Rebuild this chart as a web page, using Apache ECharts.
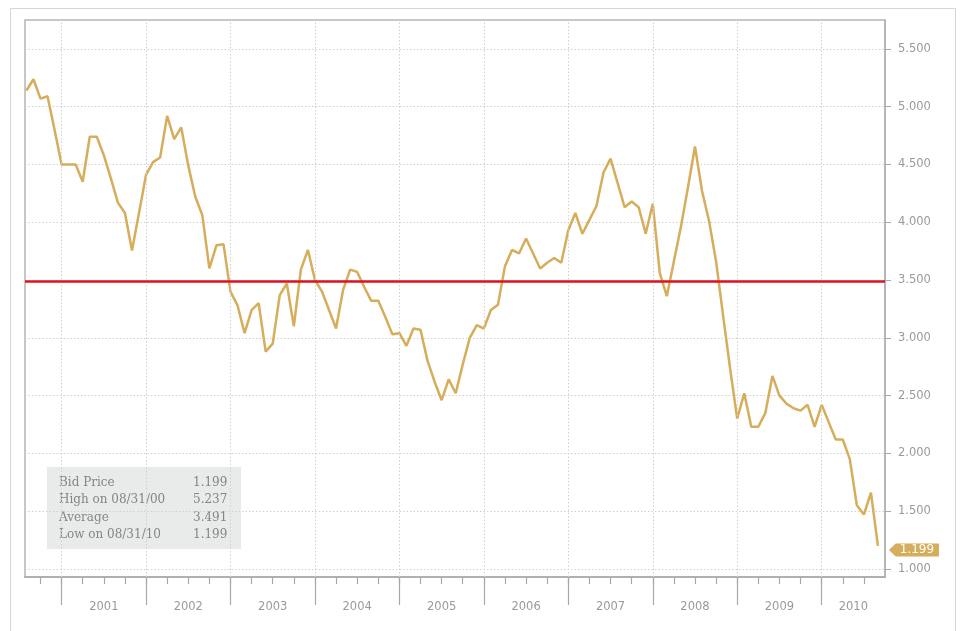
<!DOCTYPE html>
<html>
<head>
<meta charset="utf-8">
<title>Bid Price</title>
<script src="https://cdn.jsdelivr.net/npm/echarts@6/dist/echarts.min.js"></script>
<style>
  html, body { margin: 0; padding: 0; background: #fff; }
  #chart { width: 962px; height: 631px; }
</style>
</head>
<body>
<div id="chart"></div>
<script>
// month-end bid prices, Jul 2000 .. Aug 2010
const firstMonth = 6; // months since Jan 2000
const prices2000 = [5.14, 5.237, 5.07, 5.09, 4.80, 4.50];
const prices2001 = [4.50, 4.50, 4.35, 4.74, 4.74, 4.58, 4.38, 4.17, 4.08, 3.755, 4.08, 4.41];
const prices2002 = [4.52, 4.56, 4.92, 4.72, 4.82, 4.49, 4.22, 4.06, 3.60, 3.80, 3.81, 3.40];
const prices2003 = [3.28, 3.04, 3.24, 3.30, 2.88, 2.95, 3.37, 3.47, 3.10, 3.59, 3.76, 3.50];
const prices2004 = [3.40, 3.24, 3.08, 3.415, 3.59, 3.57, 3.44, 3.32, 3.32, 3.18, 3.03, 3.04];
const prices2005 = [2.93, 3.08, 3.07, 2.80, 2.62, 2.46, 2.64, 2.52, 2.77, 3.00, 3.11, 3.08];
const prices2006 = [3.24, 3.285, 3.62, 3.76, 3.73, 3.86, 3.73, 3.60, 3.65, 3.69, 3.65, 3.93];
const prices2007 = [4.08, 3.90, 4.02, 4.14, 4.43, 4.55, 4.34, 4.13, 4.18, 4.13, 3.90, 4.16];
const prices2008 = [3.56, 3.36, 3.66, 3.96, 4.30, 4.655, 4.27, 4.01, 3.66, 3.19, 2.73, 2.30];
const prices2009 = [2.52, 2.23, 2.23, 2.35, 2.67, 2.50, 2.43, 2.39, 2.37, 2.42, 2.23, 2.42];
const prices2010 = [2.27, 2.12, 2.12, 1.95, 1.55, 1.47, 1.66, 1.199];

const yearLabels = ['2001', '2002', '2003', '2004', '2005', '2006', '2007', '2008', '2009', '2010'];
const priceTicks = [1.0, 1.5, 2.0, 2.5, 3.0, 3.5, 4.0, 4.5, 5.0, 5.5];

const statLabels = ['Bid Price', 'High on 08/31/00', 'Average', 'Low on 08/31/10'];
const statValues = ['1.199', '5.237', '3.491', '1.199'];
const averagePrice = 3.491;

const prices = [].concat(prices2000, prices2001, prices2002, prices2003, prices2004,
  prices2005, prices2006, prices2007, prices2008, prices2009, prices2010);
const points = prices.map((v, i) => [firstMonth + i, v]);
const lastPoint = points[points.length - 1];

const xMin = 5.8;
const xMax = 128;
// december of previous year = year boundary
const yearTicks = yearLabels.map((y, i) => 11 + 12 * i);
const labelTicks = yearTicks.map((t, i) => ((i < yearTicks.length - 1 ? yearTicks[i + 1] : xMax) + t) / 2);
const quarterTicks = [];
for (let m = 8; m < xMax; m += 3) quarterTicks.push(m);

const gold = '#d5ad5b';
const axisGray = '#b0b0b0';
const labelFont = 'DejaVu Sans';
const boxFont = '12px "DejaVu Serif"';

const chart = echarts.init(document.getElementById('chart'));

chart.setOption({
  animation: false,
  backgroundColor: '#fff',
  grid: {
    left: 25, right: 77, top: 20, height: 557,
    show: true, borderColor: '#b5b5b5', borderWidth: 1.5
  },
  xAxis: [
    {
      type: 'value', min: xMin, max: xMax,
      axisLine: { lineStyle: { color: axisGray, width: 2 } },
      axisTick: { customValues: quarterTicks, length: 7, lineStyle: { color: '#a8a8a8', width: 1.2 } },
      axisLabel: { show: false },
      splitLine: { show: false }
    },
    {
      type: 'value', min: xMin, max: xMax, position: 'bottom',
      axisLine: { show: false },
      axisTick: { customValues: yearTicks, length: 28, lineStyle: { color: '#a8a8a8', width: 1.2 } },
      axisLabel: {
        customValues: labelTicks,
        margin: 24,
        color: '#9a9a9a',
        fontFamily: labelFont,
        fontSize: 11.5,
        formatter: (v) => yearLabels[labelTicks.findIndex((t) => Math.abs(t - v) < 0.01)] || ''
      },
      splitLine: { show: false }
    }
  ],
  yAxis: {
    type: 'value', position: 'right',
    min: 0.93, max: 5.75, splitNumber: 10,
    axisLine: { show: true, lineStyle: { color: axisGray, width: 1.5 } },
    axisTick: { show: true, customValues: priceTicks, length: 6, lineStyle: { color: '#aaa' } },
    axisLabel: {
      customValues: priceTicks,
      formatter: (v) => v.toFixed(3),
      margin: 13, color: '#9a9a9a', fontFamily: labelFont, fontSize: 11.5
    },
    splitLine: { lineStyle: { color: '#d0d0d0', type: [1.5, 2] } }
  },
  series: [
    {
      // vertical year gridlines
      type: 'line',
      data: [],
      z: 1,
      markLine: {
        silent: true,
        symbol: 'none',
        label: { show: false },
        lineStyle: { color: '#d0d0d0', type: [1.5, 2], width: 1 },
        data: yearTicks.map((t) => ({ xAxis: t }))
      }
    },
    {
      name: 'Bid Price',
      type: 'line',
      data: points,
      z: 3,
      symbol: 'none',
      lineStyle: { color: gold, width: 2.5 },
      itemStyle: { color: gold },
      markLine: {
        silent: true,
        symbol: 'none',
        label: { show: false },
        lineStyle: { color: '#e0101f', width: 2.5, type: 'solid' },
        data: [{ yAxis: averagePrice }]
      },
      markPoint: {
        silent: true,
        symbol: 'path://M0,7 L7,0 L52,0 L52,14 L7,14 Z',
        symbolSize: [50, 13],
        symbolOffset: [36, 4],
        itemStyle: { color: gold },
        label: {
          show: true, color: '#fff', fontFamily: labelFont, fontSize: 12,
          offset: [3, 0],
          formatter: (p) => p.value.toFixed(3)
        },
        data: [{ coord: lastPoint, value: lastPoint[1] }]
      }
    }
  ],
  graphic: [
    {
      type: 'rect', left: 8, top: 6, silent: true, z: -1,
      shape: { x: 0, y: 0, width: 945, height: 640 },
      style: { fill: 'none', stroke: '#d6d6d6', lineWidth: 1 }
    },
    {
      type: 'group', left: 47, top: 467, z: 10,
      children: [
        { type: 'rect', shape: { x: 0, y: 0, width: 194, height: 82 }, style: { fill: '#e9eaea' } }
      ].concat(statLabels.map((t, i) => ({
        type: 'text', x: 12, y: 16 + i * 17.3,
        style: { text: t, fill: '#858585', font: boxFont, verticalAlign: 'middle' }
      }))).concat(statValues.map((t, i) => ({
        type: 'text', x: 146, y: 16 + i * 17.3,
        style: { text: t, fill: '#858585', font: boxFont, verticalAlign: 'middle' }
      })))
    }
  ]
});
</script>
</body>
</html>
